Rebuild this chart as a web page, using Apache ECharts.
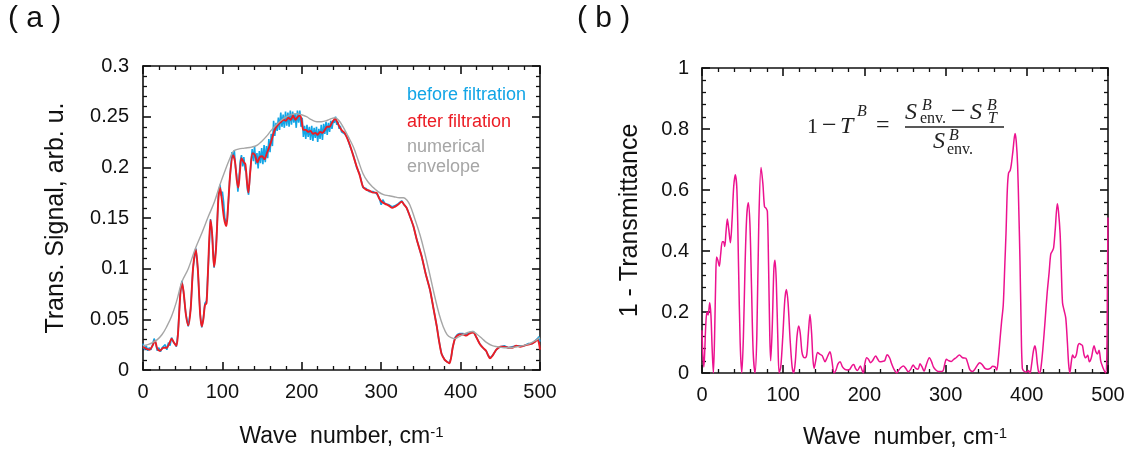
<!DOCTYPE html>
<html>
<head>
<meta charset="utf-8">
<script src="https://cdn.jsdelivr.net/npm/echarts@6/dist/echarts.min.js"></script>
<style>
  html, body { margin: 0; padding: 0; background: #fff; }
  #chart { width: 1139px; height: 468px; }
</style>
</head>
<body>
<div id="chart"></div>
<script>
// Panel (a): transmitted signal, [wave number, signal]
const signalBefore = [
  [0,0.026],[2,0.020],[4,0.024],[6,0.019],[8,0.022],[10,0.020],[12,0.025],[14,0.031],[16,0.026],[18,0.019],
  [20,0.022],[22,0.018],[24,0.022],[26,0.021],[28,0.025],[30,0.020],[32,0.027],[34,0.024],[36,0.032],[38,0.028],
  [40,0.026],[42,0.023],[44,0.036],[47,0.076],[49,0.088],[51,0.077],[54,0.055],[57,0.043],[60,0.060],[63,0.101],
  [66.5,0.120],[69,0.100],[72,0.055],[74,0.042],[76,0.051],[78,0.066],[80,0.068],[82,0.100],[85,0.149],[87,0.135],
  [89.5,0.101],[92,0.121],[95,0.172],[97,0.183],[98.5,0.172],
  [100,0.176],[101.5,0.166],[103,0.150],[104.5,0.146],[106,0.148],[107.5,0.165],[109,0.185],[110.5,0.200],[112,0.215],[113.5,0.209],
  [115,0.217],[116.5,0.200],[118,0.192],[119.5,0.176],[121,0.190],[122.5,0.206],[124,0.212],[125.5,0.201],[127,0.210],[128.5,0.198],
  [130,0.195],[131.5,0.178],[133,0.173],[134.5,0.190],[136,0.205],[137.5,0.218],[139,0.206],[140.5,0.221],[142,0.203],[143.5,0.214],
  [145,0.199],[146.5,0.216],[148,0.204],[149.5,0.219],[151,0.203],[152.5,0.222],[154,0.205],[155.5,0.221],[157,0.209],[158.5,0.228],
  [160,0.215],[161.5,0.233],[163,0.221],[164.5,0.246],[166,0.231],[167.5,0.244],[169,0.236],[170.5,0.249],[172,0.237],[173.5,0.254],
  [175,0.240],[176.5,0.252],[178,0.239],[179.5,0.255],[181,0.241],[182.5,0.254],[184,0.240],[185.5,0.256],[187,0.242],[188.5,0.255],
  [190,0.244],[191.5,0.253],[193,0.239],[194.5,0.256],[196,0.244],[197.5,0.256],[199,0.240],[200.5,0.249],[202,0.230],[203.5,0.241],
  [205,0.228],[206.5,0.242],[208,0.230],[209.5,0.240],[211,0.227],[212.5,0.241],[214,0.226],[215.5,0.239],[217,0.229],[218.5,0.240],
  [220,0.225],[221.5,0.238],[223,0.228],[224.5,0.242],[226,0.227],[227.5,0.243],[229,0.233],[230.5,0.245],[232,0.232],[233.5,0.244],
  [235,0.235],[236.5,0.246],[238,0.238],[239.5,0.246],[241,0.244],[242.5,0.250],[244,0.242],[245.5,0.245],[247,0.238],[248.5,0.241],
  [250,0.235],[251,0.236],[254,0.233],[257,0.230],[261,0.220],[265,0.212],[269,0.200],[273,0.193],[277,0.180],[281,0.179],
  [285,0.176],[290,0.176],[294,0.174],[297,0.171],[300,0.163],[302,0.168],[305,0.164],[310,0.163],[314,0.161],[317,0.162],
  [321,0.164],[325.8,0.167],[329,0.163],[332,0.160],[336,0.152],[340.5,0.142],[345,0.128],[351,0.112],[356,0.095],[361.5,0.079],
  [366,0.060],[370,0.043],[373,0.028],[376,0.016],[380,0.010],[383,0.008],[385.8,0.007],[388,0.012],[390,0.022],[393,0.032],
  [396,0.035],[399,0.036],[403,0.036],[407,0.035],[411,0.037],[416,0.038],[420,0.032],[424,0.026],[428,0.022],[432,0.019],
  [435,0.014],[437,0.012],[440,0.014],[445,0.020],[450,0.023],[455,0.024],[460,0.022],[465,0.023],[470,0.024],[475,0.024],
  [480,0.024],[485,0.026],[490,0.026],[494,0.029],[497,0.031],[498.5,0.033],[500,0.028]
];

const signalAfter = [
  [0,0.023],[4,0.021],[8,0.020],[12,0.024],[15,0.029],[18,0.021],[21,0.019],[26,0.022],[30,0.022],[33,0.026],
  [36,0.031],[39,0.027],[42,0.024],[44,0.035],[47,0.075],[49,0.086],[51,0.078],[54,0.055],[57,0.044],[60,0.060],
  [63,0.100],[66.5,0.119],[69,0.100],[72,0.055],[74,0.043],[76,0.050],[78,0.064],[80,0.066],[82,0.100],[85,0.148],
  [87,0.135],[89.5,0.102],[92,0.120],[95,0.170],[97,0.180],[99,0.170],[102,0.150],[105,0.142],[107,0.160],[110,0.195],
  [113.5,0.212],[116,0.205],[118,0.188],[120,0.180],[122,0.195],[124,0.209],[127,0.205],[129,0.203],[131,0.185],[132.7,0.175],
  [135,0.195],[138,0.214],[141,0.212],[144,0.205],[147,0.210],[150,0.211],[153,0.208],[156,0.214],[159,0.220],[162,0.227],
  [165,0.235],[168,0.240],[171,0.243],[174,0.245],[177,0.247],[180,0.246],[183,0.249],[186,0.247],[189,0.251],[192,0.247],
  [195,0.250],[198,0.251],[200,0.245],[202,0.237],[205,0.237],[208,0.235],[211,0.236],[214,0.233],[217,0.234],[220,0.232],
  [223,0.235],[226,0.234],[229,0.237],[232,0.240],[235,0.240],[238,0.244],[242,0.248],[245,0.244],[248,0.239],[251,0.236],
  [254,0.234],[257,0.229],[261,0.221],[265,0.211],[269,0.201],[273,0.192],[277,0.181],[281,0.178],[285,0.177],[290,0.175],
  [294,0.175],[297,0.170],[300.6,0.166],[305,0.164],[310,0.162],[314,0.160],[317,0.161],[321,0.163],[325.8,0.166],[329,0.163],
  [332,0.160],[336,0.152],[340.5,0.142],[345,0.128],[351,0.112],[356,0.095],[361.5,0.079],[366,0.060],[370,0.043],[373,0.028],
  [376,0.016],[380,0.010],[383,0.008],[385.8,0.0066],[388,0.012],[390,0.022],[393,0.031],[396,0.034],[399,0.035],[403,0.035],
  [407,0.034],[411,0.036],[416,0.037],[420,0.032],[424,0.026],[428,0.022],[432,0.019],[435,0.014],[437,0.0115],[440,0.014],
  [445,0.020],[450,0.023],[455,0.023],[460,0.022],[465,0.022],[470,0.024],[475,0.023],[480,0.024],[485,0.025],[490,0.026],
  [494,0.028],[497,0.030],[498.5,0.027],[500,0.020]
];

const envelope = [
  [0,0.024],[6,0.025],[12,0.027],[18,0.030],[24,0.035],[30,0.043],[36,0.053],[42,0.067],[49,0.087],[57,0.100],
  [65.5,0.119],[74,0.135],[82,0.151],[90,0.166],[97,0.183],[104,0.198],[110,0.210],[114,0.216],[120,0.218],[128,0.219],
  [137,0.220],[144,0.222],[150,0.226],[156,0.231],[162,0.237],[168,0.242],[175,0.247],[181,0.250],[187,0.252],[193,0.253],
  [199,0.252],[206,0.250],[212,0.247],[219,0.245],[225,0.245],[231,0.246],[237,0.248],[242,0.249],[247,0.246],[252,0.240],
  [258,0.231],[265,0.220],[271,0.207],[277,0.194],[283,0.186],[290,0.180],[296,0.176],[303,0.173],[310,0.172],[316,0.171],
  [323,0.170],[328,0.170],[332,0.168],[336,0.163],[342,0.150],[349,0.133],[355,0.115],[361,0.095],[367,0.074],[373,0.055],
  [378,0.043],[383,0.035],[388,0.032],[393,0.031],[398,0.033],[403,0.035],[409,0.037],[415,0.038],[421,0.035],[427,0.031],
  [433,0.027],[440,0.024],[447,0.023],[455,0.022],[463,0.022],[471,0.023],[479,0.024],[487,0.026],[494,0.029],[500,0.032]
];

// Panel (b): 1 - transmittance, [wave number, value]
const oneMinusT = [
  [0,0.14],[1,0.06],[2.3,0.02],[3.5,0.08],[4.5,0.15],[6,0.2],[7.5,0.19],[9.5,0.23],[11,0.19],[12.5,0.08],
  [14,0.0],[15.5,0.12],[17,0.32],[18,0.38],[19.5,0.37],[21.3,0.35],[23,0.39],[25,0.43],[26.5,0.43],[28,0.415],
  [29.5,0.46],[31.2,0.505],[33,0.47],[35,0.427],[37,0.5],[39,0.61],[41,0.65],[43,0.6],[45,0.35],[47,0.1],
  [49,0.0],[51,0.12],[53,0.35],[55,0.51],[57,0.558],[59,0.49],[61,0.28],[63,0.07],[65.3,0.0],[67.5,0.12],
  [70,0.5],[72.7,0.674],[75,0.62],[77,0.545],[79,0.54],[80.5,0.53],[82,0.35],[83.5,0.12],[84.6,0.04],[86.5,0.15],
  [88.5,0.34],[89.9,0.37],[91.5,0.3],[93.5,0.1],[95,0.0],[97,0.02],[99.5,0.12],[102,0.24],[104,0.274],[106,0.23],
  [108.5,0.11],[111,0.02],[113,0.0],[115,0.04],[117,0.12],[119,0.154],[121,0.13],[123,0.07],[124.8,0.053],[127,0.05],
  [129,0.06],[131,0.13],[133,0.192],[135,0.13],[136.5,0.05],[138,0.015],[140,0.04],[142.4,0.067],[145,0.062],[148,0.057],
  [151.5,0.037],[154,0.05],[157.6,0.07],[160,0.04],[162.6,0.0],[165,0.01],[167.5,0.03],[170,0.037],[173,0.02],[176,0.012],
  [179,0.01],[182,0.012],[185,0.025],[187,0.028],[189,0.015],[191.5,0.008],[195,0.023],[197,0.01],[198.7,0.0],[200.5,0.03],
  [202.8,0.05],[205,0.045],[207.7,0.034],[210,0.04],[213.9,0.056],[216.5,0.045],[219,0.037],[222,0.038],[225,0.04],[228,0.06],
  [231,0.05],[233.6,0.03],[236.5,0.012],[239.7,0.0],[242,0.008],[245,0.018],[248,0.023],[251,0.015],[254,0.004],[257,0.012],
  [260,0.026],[263,0.016],[266,0.012],[268.5,0.03],[271,0.02],[273.5,0.006],[276,0.025],[280,0.05],[283,0.035],[285,0.02],
  [288,0.01],[291,0.005],[294,0.005],[297,0.008],[299,0.03],[301,0.045],[304,0.04],[307,0.038],[310,0.045],[313,0.05],
  [317,0.059],[321,0.05],[325,0.048],[327.5,0.03],[330,0.01],[333,0.005],[336,0.012],[339,0.025],[342,0.034],[345,0.028],
  [348.5,0.015],[352,0.012],[355,0.015],[358,0.022],[361,0.02],[363,0.01],[365,0.05],[367,0.11],[369,0.17],[371,0.223],
  [373,0.36],[374.4,0.458],[376,0.6],[377.5,0.655],[379.6,0.665],[381,0.685],[383,0.73],[385.5,0.785],[387,0.76],[388.7,0.68],
  [390.2,0.53],[391.6,0.37],[393,0.16],[394.5,0.015],[397,0.005],[400,0.003],[402,0.008],[404,0.0],[406,0.03],[408,0.07],
  [410,0.089],[411.5,0.07],[413,0.03],[414.5,0.004],[416,0.0],[418,0.03],[420,0.086],[422.5,0.17],[425,0.26],[427.5,0.33],
  [429.5,0.39],[431.5,0.4],[433,0.41],[435,0.47],[437.6,0.555],[439,0.53],[441,0.458],[442.5,0.34],[444,0.23],[446,0.205],
  [448,0.18],[450,0.1],[451.5,0.03],[453,0.0],[455,0.04],[456.5,0.059],[458.5,0.05],[461,0.06],[463,0.09],[464.7,0.097],
  [466.5,0.094],[468.5,0.09],[470.5,0.06],[472.5,0.05],[475,0.058],[477,0.037],[479.5,0.05],[482.8,0.089],[485,0.07],[487,0.062],
  [489,0.075],[491,0.04],[493,0.023],[495,0.01],[497,0.0],[498.5,0.05],[499.3,0.3],[500,0.51]
];

const legendLabels = ['before filtration', 'after filtration', 'numerical', 'envelope'];
const panelLabels = ['( a )', '( b )'];

const SANS = '"Liberation Sans", Arial, Helvetica, sans-serif';
const SERIF = '"Liberation Serif", "Times New Roman", serif';
const BLUE = '#12a5e6';
const RED = '#ec1c24';
const GREY = '#a6a6a6';
const MAGENTA = '#ec128f';
const INK = '#222';

function frameAxis(gridIndex, position, extra) {
  return Object.assign({
    type: 'value',
    gridIndex: gridIndex,
    position: position,
    axisLine: { show: true, onZero: false, lineStyle: { color: '#111', width: 1.6 } },
    axisTick: { show: true, inside: true, length: 8, lineStyle: { color: '#111', width: 1.6 } },
    minorTick: { show: true, splitNumber: 5, length: 4, lineStyle: { color: '#111', width: 1.3 } },
    splitLine: { show: false },
    minorSplitLine: { show: false },
    axisLabel: { show: false }
  }, extra);
}

const tickLabel = { show: true, color: '#111', fontSize: 20, fontFamily: SANS };
function nameStyle(size) {
  return { color: '#111', fontSize: size, fontFamily: SANS,
    rich: { sup: { fontSize: 15, fontFamily: SANS, color: '#111', verticalAlign: 'top' } } };
}

const xRange = { min: 0, max: 500, interval: 100 };

// small helper for the pieces of the formula text
function glyph(x, y, text, font) {
  return { type: 'text', x: x, y: y, style: { text: text, font: font, fill: INK, verticalAlign: 'middle' } };
}
const F_MAIN = '22px ' + SERIF;
const F_ITAL = 'italic 24px ' + SERIF;
const F_SCRIPT = 'italic 16px ' + SERIF;
const F_SUB = '16px ' + SERIF;
const F_MINUS = '26px ' + SERIF;

const option = {
  animation: false,
  backgroundColor: '#fff',
  grid: [
    { left: 143, top: 66, width: 397, height: 304 },
    { left: 702, top: 68, width: 406, height: 305 }
  ],
  xAxis: [
    frameAxis(0, 'bottom', Object.assign({}, xRange, {
      axisLabel: Object.assign({ margin: 12 }, tickLabel),
      name: 'Wave  number, cm{sup|-1}', nameLocation: 'middle', nameGap: 55, nameTextStyle: nameStyle(23)
    })),
    frameAxis(0, 'top', Object.assign({}, xRange)),
    frameAxis(1, 'bottom', Object.assign({}, xRange, {
      axisLabel: Object.assign({ margin: 12 }, tickLabel),
      name: 'Wave  number, cm{sup|-1}', nameLocation: 'middle', nameGap: 53, nameTextStyle: nameStyle(23)
    })),
    frameAxis(1, 'top', Object.assign({}, xRange))
  ],
  yAxis: [
    frameAxis(0, 'left', {
      min: 0, max: 0.3, interval: 0.05,
      axisLabel: Object.assign({ margin: 14 }, tickLabel),
      name: 'Trans. Signal, arb. u.', nameLocation: 'middle', nameGap: 74, nameTextStyle: nameStyle(25)
    }),
    frameAxis(0, 'right', { min: 0, max: 0.3, interval: 0.05 }),
    frameAxis(1, 'left', {
      min: 0, max: 1, interval: 0.2,
      axisLabel: Object.assign({ margin: 13 }, tickLabel),
      name: '1 - Transmittance', nameLocation: 'middle', nameGap: 59, nameTextStyle: nameStyle(25)
    }),
    frameAxis(1, 'right', { min: 0, max: 1, interval: 0.2 })
  ],
  series: [
    { name: legendLabels[0], type: 'line', xAxisIndex: 0, yAxisIndex: 0, data: signalBefore,
      showSymbol: false, lineStyle: { color: BLUE, width: 1.6 }, z: 2 },
    { name: legendLabels[1], type: 'line', xAxisIndex: 0, yAxisIndex: 0, data: signalAfter,
      showSymbol: false, smooth: 0.3, lineStyle: { color: RED, width: 1.9 }, z: 3 },
    { name: 'numerical envelope', type: 'line', xAxisIndex: 0, yAxisIndex: 0, data: envelope,
      showSymbol: false, smooth: 0.4, lineStyle: { color: GREY, width: 1.4 }, z: 4 },
    { name: '1 - T', type: 'line', xAxisIndex: 2, yAxisIndex: 2, data: oneMinusT,
      showSymbol: false, smooth: 0.3, lineStyle: { color: MAGENTA, width: 1.5 }, z: 3 }
  ],
  graphic: [
    // panel labels
    { type: 'text', left: 8, top: 4, style: { text: panelLabels[0], font: '30px ' + SANS, fill: '#111' } },
    { type: 'text', left: 577, top: 4, style: { text: panelLabels[1], font: '30px ' + SANS, fill: '#111' } },
    // in-plot legend of panel (a)
    { type: 'text', x: 407, y: 95, style: { text: legendLabels[0], font: '18px ' + SANS, fill: BLUE, verticalAlign: 'middle' } },
    { type: 'text', x: 407, y: 122, style: { text: legendLabels[1], font: '18px ' + SANS, fill: RED, verticalAlign: 'middle' } },
    { type: 'text', x: 407, y: 147, style: { text: legendLabels[2], font: '18px ' + SANS, fill: GREY, verticalAlign: 'middle' } },
    { type: 'text', x: 407, y: 167, style: { text: legendLabels[3], font: '18px ' + SANS, fill: GREY, verticalAlign: 'middle' } },
    // formula of panel (b): 1 - T^B = (S^B_env. - S^B_T) / S^B_env.
    glyph(807, 127, '1', F_MAIN),
    glyph(822, 126, '\u2212', F_MINUS),
    glyph(840, 127, 'T', F_ITAL),
    glyph(857, 112, 'B', F_SCRIPT),
    glyph(876, 126, '=', '24px ' + SERIF),
    { type: 'line', shape: { x1: 905, y1: 127, x2: 1004, y2: 127 }, style: { stroke: INK, lineWidth: 1.6 } },
    glyph(905, 113, 'S', F_ITAL),
    glyph(922, 106, 'B', F_SCRIPT),
    glyph(920, 119, 'env.', F_SUB),
    glyph(951, 112, '\u2212', F_MINUS),
    glyph(970, 113, 'S', F_ITAL),
    glyph(987, 106, 'B', F_SCRIPT),
    glyph(988, 119, 'T', F_SCRIPT),
    glyph(933, 142, 'S', F_ITAL),
    glyph(949, 136, 'B', F_SCRIPT),
    glyph(947, 150, 'env.', F_SUB)
  ]
};

const chart = echarts.init(document.getElementById('chart'), null, { renderer: 'canvas' });
chart.setOption(option);
</script>
</body>
</html>
